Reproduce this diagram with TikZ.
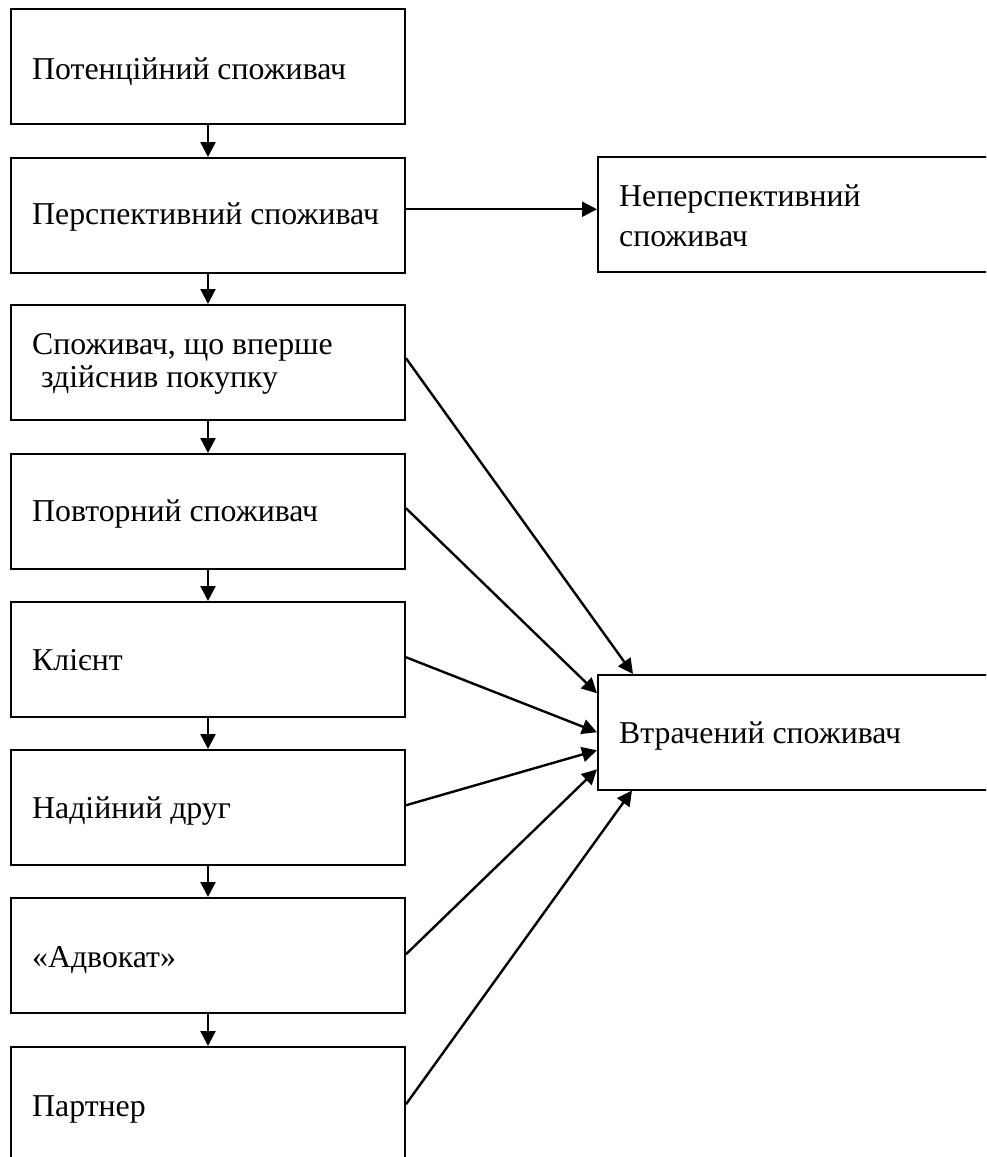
\documentclass[tikz,border=0pt]{standalone}
\usepackage{fontspec}
\setmainfont{Liberation Serif}
\usetikzlibrary{arrows.meta}
\tikzset{
  box/.style={draw=black, line width=2pt, rectangle, inner sep=0pt, anchor=north west},
  lbox/.style={box, minimum width=394pt, minimum height=114.5pt},
  rbox/.style={box, minimum width=420pt, minimum height=114.5pt},
  txt/.style={anchor=base west, inner sep=0pt, font=\fontsize{31.8pt}{33pt}\selectfont},
  arr/.style={line width=2.4pt, -{Triangle[length=15pt,width=15pt]}},
}
\begin{document}
\begin{tikzpicture}[x=1pt, y=-1pt]
\useasboundingbox (0,0) rectangle (986,1157);
\clip (0,0) rectangle (986,1157);
% left column boxes
\node[lbox] (b1) at (10,8) {};
\node[lbox] (b2) at (10,157) {};
\node[lbox] (b3) at (10,304) {};
\node[lbox] (b4) at (10,453) {};
\node[lbox] (b5) at (10,601) {};
\node[lbox] (b6) at (10,749) {};
\node[lbox] (b7) at (10,897) {};
\node[lbox] (b8) at (10,1046) {};
% right boxes
\node[rbox] (r1) at (597,156) {};
\node[rbox] (r2) at (597,674) {};
% texts
\node[txt] (t1) at (32,79) {Потенційний споживач};
\node[txt] (t2) at (32,224) {Перспективний споживач};
\node[txt] (t3a) at (32,354) {Споживач, що вперше};
\node[txt] (t3b) at (41,387) {здійснив покупку};
\node[txt] (t4) at (32,521) {Повторний споживач};
\node[txt] (t5) at (32,670) {Клієнт};
\node[txt] (t6) at (32,818) {Надійний друг};
\node[txt] (t7) at (32,967) {«Адвокат»};
\node[txt] (t8) at (32,1116) {Партнер};
\node[txt] (t9a) at (619,206) {Неперспективний};
\node[txt] (t9b) at (619,246) {споживач};
\node[txt] (t10) at (619,743) {Втрачений споживач};
% vertical arrows
\draw[arr] (b1.south) -- (b2.north);
\draw[arr] (b2.south) -- (b3.north);
\draw[arr] (b3.south) -- (b4.north);
\draw[arr] (b4.south) -- (b5.north);
\draw[arr] (b5.south) -- (b6.north);
\draw[arr] (b6.south) -- (b7.north);
\draw[arr] (b7.south) -- (b8.north);
% horizontal arrow
\coordinate (h1) at ([yshift=6pt]b2.east);
\draw[arr] (h1) -- (r1.west |- h1);
% arrows to lost customer
\draw[arr] ([yshift=4pt]b3.east) -- ([xshift=36pt]r2.north west);
\draw[arr] ([yshift=3pt]b4.east) -- ([yshift=39pt]r2.west);
\draw[arr] ([yshift=2pt]b5.east) -- (r2.west);
\draw[arr] ([yshift=2pt]b6.east) -- ([yshift=-18pt]r2.west);
\draw[arr] ([yshift=1pt]b7.east) -- ([yshift=-37pt]r2.west);
\draw[arr] (b8.east) -- ([xshift=35pt]r2.south west);
\end{tikzpicture}
\end{document}
